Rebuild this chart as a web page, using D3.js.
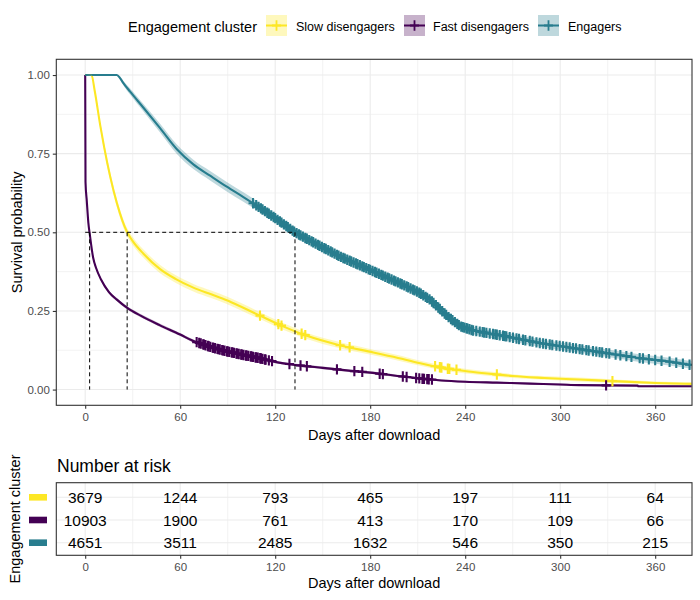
<!DOCTYPE html>
<html><head><meta charset="utf-8">
<script src="https://cdn.jsdelivr.net/npm/d3@7"></script>
<style>body{margin:0;background:#fff} text{font-family:"Liberation Sans",Arial,sans-serif}</style>
</head><body><svg id="c" width="700" height="600"></svg>
<script>
// ---------- data ----------
const groups = ["Slow disengagers", "Fast disengagers", "Engagers"];
const colors = ["#FDE725", "#440154", "#287D8E"];
const xTicks = [0, 60, 120, 180, 240, 300, 360];
const xMinor = [30, 90, 150, 210, 270, 330];
const yTicks = [0, 0.25, 0.5, 0.75, 1];
const yMinor = [0.125, 0.375, 0.625, 0.875];

// [day, survival, CI half-width]
const slowCurve = [[0,1,0],[4,1,0.002],[6,0.95,0.006],[9.5,0.84,0.01],[12,0.77,0.012],[15.8,0.677,0.013],[20,0.593,0.013],[26.5,0.5,0.013],[30,0.472,0.013],[36.8,0.432,0.013],[47.3,0.383,0.013],[57,0.352,0.012],[68.3,0.324,0.012],[80,0.302,0.012],[89.4,0.284,0.012],[97.8,0.265,0.012],[110.4,0.235,0.011],[125,0.201,0.011],[140,0.171,0.01],[160,0.142,0.01],[182,0.118,0.009],[200,0.098,0.009],[213,0.082,0.008],[228,0.067,0.008],[245,0.056,0.007],[260,0.048,0.007],[270,0.043,0.006],[290,0.037,0.006],[312,0.032,0.006],[337,0.026,0.005],[360,0.021,0.005],[383,0.018,0.005]];
const fastCurve = [[0,1,0],[0.2,0.66,0.005],[1,0.6,0.005],[2,0.53,0.005],[3,0.49,0.005],[5,0.42,0.005],[7,0.385,0.005],[10,0.35,0.005],[15,0.31,0.005],[20,0.286,0.005],[27,0.258,0.005],[35,0.235,0.005],[47,0.205,0.005],[60,0.175,0.005],[68,0.155,0.005],[80,0.134,0.004],[89,0.122,0.004],[100,0.11,0.004],[110,0.1,0.004],[120,0.088,0.004],[135,0.077,0.004],[150,0.069,0.004],[165,0.061,0.004],[180,0.054,0.004],[195,0.045,0.004],[210,0.036,0.003],[225,0.029,0.003],[240,0.025,0.003],[260,0.022,0.003],[281,0.019,0.003],[300,0.016,0.003],[312,0.014,0.003],[349,0.0125,0.003],[349.3,0.0105,0.003],[383,0.0105,0.003]];
const engCurve = [[0,1,0],[20,1,0],[22,0.99,0.004],[24,0.975,0.007],[28.4,0.947,0.01],[36.8,0.896,0.012],[47.3,0.831,0.014],[57.9,0.764,0.015],[68.3,0.716,0.015],[78.9,0.68,0.015],[89.4,0.645,0.015],[99.9,0.612,0.015],[110.4,0.578,0.015],[120,0.545,0.015],[132.5,0.5,0.015],[147,0.46,0.015],[161,0.423,0.015],[182,0.376,0.014],[200,0.335,0.014],[211,0.308,0.014],[218,0.285,0.013],[224,0.256,0.013],[230,0.228,0.013],[237,0.201,0.012],[245,0.188,0.012],[266,0.169,0.012],[287,0.148,0.012],[308,0.132,0.012],[329,0.116,0.012],[350,0.1,0.012],[370,0.088,0.012],[383,0.078,0.012]];

const slowCensor = [110.4,122,124,136.7,139,161,167,221,224,225,229,230,234.5,260,333];
const fastCensor = [70.4,72,73,74.5,75,76,77.5,78,79,80.5,81,82,83.5,84,85,86.5,87,88,89.5,90,91,92.5,93,94,95.5,96,97,98.5,99,100,101.5,102,103,104.5,105,106,107.5,108,109,110.5,111,112,113.5,114,116,118,129,136,140,159,170,175,186,188,200.6,203,209,211,213,214,216,217,219,329];
const engCensor = [106,108,109.5,111,112,113.5,115,116,117.5,119,120,121.5,123,124,125.5,127,128,129.5,131,132,133.5,135,136,137.5,139,140,141.5,143,144,145.5,147,148,149.5,151,152,153.5,155,156,157.5,159,160,161.5,163,164,165.5,167,168,169.5,171,172,173.5,175,176,177.5,179,180,181.5,183,184,185.5,187,188,189.5,191,192,193.5,195,196,197.5,199,200,201.5,203,204,205.5,207,208,209.5,211,212,213.5,215,216,217.5,219,220,221.5,223,224,225.5,227,228,229.5,231,232,233.5,235,236,237.5,238.5,239.5,240.8,241.5,242.7,244,245,247,249.2,251,252,253.4,255.5,257.6,259,260,261.8,263.9,265,266,268.1,270.2,272.4,274,276.5,278,280.8,282.5,285,287.1,289.2,291,293.4,295,297.6,299.7,301.8,303.9,306,308.1,310,312.3,314,316.5,318,320.7,322.8,324.9,326.5,329.1,331,335,338,341.8,345,350.2,352.3,356,360,364,369.1,373.3,377.5,381.7];

const medians = [26.5, 2.8, 132.5];

const riskTimes = [0, 60, 120, 180, 240, 300, 360];
const riskSlow = [3679, 1244, 793, 465, 197, 111, 64];
const riskFast = [10903, 1900, 761, 413, 170, 109, 66];
const riskEng = [4651, 3511, 2485, 1632, 546, 350, 215];

const curves = [slowCurve, fastCurve, engCurve];
const censors = [slowCensor, fastCensor, engCensor];
const risks = [riskSlow, riskFast, riskEng];

// ---------- drawing ----------
const svg = d3.select("#c");
const P = {l: 56.3, r: 692, t: 59.3, b: 405.3};
const x = d3.scaleLinear().domain([-18.25, 383.25]).range([P.l, P.r]);
const y = d3.scaleLinear().domain([-0.05, 1.05]).range([P.b, P.t]);
const tickCol = "#4D4D4D", grid = "#EBEBEB", border = "#333333";

function interp(curve, t) {
  for (let i = curve.length - 1; i >= 0; i--) {
    if (curve[i][0] <= t) {
      const a = curve[i], b = curve[i + 1];
      if (!b) return a[1];
      if (b[0] === a[0]) return b[1];
      return a[1] + (b[1] - a[1]) * (t - a[0]) / (b[0] - a[0]);
    }
  }
  return curve[0][1];
}

// gridlines
const gMain = svg.append("g");
gMain.selectAll(".xm").data(xMinor).join("line")
  .attr("x1", d => x(d)).attr("x2", d => x(d)).attr("y1", P.t).attr("y2", P.b)
  .attr("stroke", grid).attr("stroke-width", 0.6);
gMain.selectAll(".ym").data(yMinor).join("line")
  .attr("y1", d => y(d)).attr("y2", d => y(d)).attr("x1", P.l).attr("x2", P.r)
  .attr("stroke", grid).attr("stroke-width", 0.6);
gMain.selectAll(".xM").data(xTicks).join("line")
  .attr("x1", d => x(d)).attr("x2", d => x(d)).attr("y1", P.t).attr("y2", P.b)
  .attr("stroke", grid).attr("stroke-width", 1.1);
gMain.selectAll(".yM").data(yTicks).join("line")
  .attr("y1", d => y(d)).attr("y2", d => y(d)).attr("x1", P.l).attr("x2", P.r)
  .attr("stroke", grid).attr("stroke-width", 1.1);

// clip
svg.append("clipPath").attr("id", "clip").append("rect")
  .attr("x", P.l).attr("y", P.t).attr("width", P.r - P.l).attr("height", P.b - P.t);
const plot = svg.append("g").attr("clip-path", "url(#clip)");

const line = d3.line().curve(d3.curveMonotoneX).x(d => x(d[0])).y(d => y(d[1]));
const area = d3.area().curve(d3.curveMonotoneX).x(d => x(d[0]))
  .y0(d => y(d[1] - d[2])).y1(d => y(d[1] + d[2]));

curves.forEach((c, i) => {
  plot.append("path").datum(c).attr("d", line).attr("fill", "none")
    .attr("stroke", colors[i]).attr("stroke-width", 2.1);
});
curves.forEach((c, i) => {
  plot.append("path").datum(c).attr("d", area).attr("fill", colors[i]).attr("fill-opacity", 0.3);
});
const plus = "M-4.5,0H4.5M0,-5.2V5.2";
censors.forEach((cs, i) => {
  plot.append("g").selectAll("path").data(cs).join("path")
    .attr("transform", d => `translate(${x(d)},${y(interp(curves[i], d))})`)
    .attr("d", plus).attr("stroke", colors[i]).attr("stroke-width", 2.1).attr("fill", "none");
});

// median lines
const maxMed = d3.max(medians);
plot.append("line").attr("x1", x(0)).attr("x2", x(maxMed)).attr("y1", y(0.5)).attr("y2", y(0.5))
  .attr("stroke", "#000").attr("stroke-width", 1).attr("stroke-dasharray", "4,3");
plot.selectAll(".med").data(medians).join("line")
  .attr("x1", d => x(d)).attr("x2", d => x(d)).attr("y1", y(0.5)).attr("y2", y(0))
  .attr("stroke", "#000").attr("stroke-width", 1).attr("stroke-dasharray", "4,3");

// border
svg.append("rect").attr("x", P.l).attr("y", P.t).attr("width", P.r - P.l).attr("height", P.b - P.t)
  .attr("fill", "none").attr("stroke", border).attr("stroke-width", 1.1);

// axes
const xAxis = svg.append("g").attr("transform", `translate(0,${P.b})`)
  .call(d3.axisBottom(x).tickValues(xTicks).tickSize(3.5).tickPadding(4).tickFormat(d3.format("d")));
const yAxis = svg.append("g").attr("transform", `translate(${P.l},0)`)
  .call(d3.axisLeft(y).tickValues(yTicks).tickSize(3.5).tickPadding(3).tickFormat(d3.format(".2f")));
[xAxis, yAxis].forEach(a => {
  a.select(".domain").remove();
  a.selectAll(".tick line").attr("stroke", border).attr("stroke-width", 1.1);
  a.selectAll(".tick text").attr("fill", tickCol).style("font-size", "11.5px")
    .style("font-family", '"Liberation Sans",Arial,sans-serif');
});

svg.append("text").attr("x", (P.l + P.r) / 2).attr("y", 435).attr("text-anchor", "middle")
  .attr("dominant-baseline", "central").style("font-size", "14.5px").text("Days after download");
svg.append("text").attr("transform", `translate(17,${(P.t + P.b) / 2}) rotate(-90)`)
  .attr("text-anchor", "middle").attr("dominant-baseline", "central").style("font-size", "14.5px")
  .text("Survival probability");

// legend
const leg = svg.append("g");
leg.append("text").attr("x", 128).attr("y", 27).attr("dominant-baseline", "central")
  .style("font-size", "14.5px").text("Engagement cluster");
const keyX = [266, 404, 538];
const labX = [296, 433, 568];
groups.forEach((g, i) => {
  const kg = leg.append("g").attr("transform", `translate(${keyX[i]},15)`);
  kg.append("rect").attr("width", 21).attr("height", 21).attr("fill", colors[i]).attr("fill-opacity", 0.3);
  kg.append("line").attr("x1", 0).attr("x2", 21).attr("y1", 10.5).attr("y2", 10.5)
    .attr("stroke", colors[i]).attr("stroke-width", 2);
  kg.append("path").attr("transform", "translate(10.5,10.5)").attr("d", plus)
    .attr("stroke", colors[i]).attr("stroke-width", 1.8);
  leg.append("text").attr("x", labX[i]).attr("y", 27).attr("dominant-baseline", "central")
    .style("font-size", "12.5px").text(g);
});

// ---------- risk table ----------
const T = {t: 482.7, b: 555.3};
const rowY = [497.3, 520, 542.7];
const gT = svg.append("g");
gT.selectAll(".txm").data(xMinor).join("line")
  .attr("x1", d => x(d)).attr("x2", d => x(d)).attr("y1", T.t).attr("y2", T.b)
  .attr("stroke", grid).attr("stroke-width", 0.6);
gT.selectAll(".txM").data(xTicks).join("line")
  .attr("x1", d => x(d)).attr("x2", d => x(d)).attr("y1", T.t).attr("y2", T.b)
  .attr("stroke", grid).attr("stroke-width", 1.1);
gT.selectAll(".tyM").data(rowY).join("line")
  .attr("y1", d => d).attr("y2", d => d).attr("x1", P.l).attr("x2", P.r)
  .attr("stroke", grid).attr("stroke-width", 1.1);
risks.forEach((r, i) => {
  gT.append("g").selectAll("text").data(r).join("text")
    .attr("x", (d, j) => x(riskTimes[j])).attr("y", rowY[i])
    .attr("text-anchor", "middle").attr("dominant-baseline", "central")
    .style("font-size", "15.5px").attr("fill", "#000").text(d => d);
  gT.append("rect").attr("x", 29).attr("y", rowY[i] - 3.3).attr("width", 18).attr("height", 6.6)
    .attr("fill", colors[i]);
});
gT.append("rect").attr("x", P.l).attr("y", T.t).attr("width", P.r - P.l).attr("height", T.b - T.t)
  .attr("fill", "none").attr("stroke", border).attr("stroke-width", 1.1);
const tAxis = gT.append("g").attr("transform", `translate(0,${T.b})`)
  .call(d3.axisBottom(x).tickValues(xTicks).tickSize(3.5).tickPadding(4).tickFormat(d3.format("d")));
tAxis.select(".domain").remove();
tAxis.selectAll(".tick line").attr("stroke", border).attr("stroke-width", 1.1);
tAxis.selectAll(".tick text").attr("fill", tickCol).style("font-size", "11.5px")
  .style("font-family", '"Liberation Sans",Arial,sans-serif');

gT.append("text").attr("x", 57).attr("y", 466).attr("dominant-baseline", "central")
  .style("font-size", "17.5px").text("Number at risk");
gT.append("text").attr("x", (P.l + P.r) / 2).attr("y", 583).attr("text-anchor", "middle")
  .attr("dominant-baseline", "central").style("font-size", "14.5px").text("Days after download");
gT.append("text").attr("transform", "translate(15,519) rotate(-90)")
  .attr("text-anchor", "middle").attr("dominant-baseline", "central").style("font-size", "14.5px")
  .text("Engagement cluster");
</script></body></html>
